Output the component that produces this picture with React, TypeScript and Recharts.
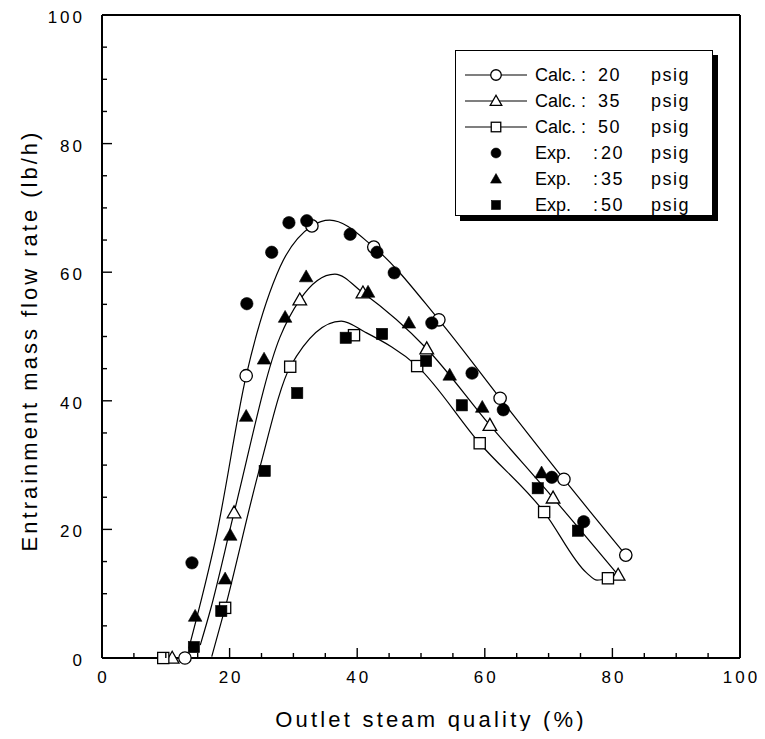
import React from 'react';
import { ComposedChart, Line, Scatter, XAxis, YAxis, Legend, Label } from 'recharts';

// axis ticks: major every 20, minor every 5
const axisTicks = [0, 5, 10, 15, 20, 25, 30, 35, 40, 45, 50, 55, 60, 65, 70, 75, 80, 85, 90, 95, 100];

// calculated values (open markers)
const calc20 = [
  { x: 13.0, y: 0 }, { x: 22.6, y: 43.9 }, { x: 32.9, y: 67.2 }, { x: 42.6, y: 63.9 },
  { x: 52.8, y: 52.6 }, { x: 62.4, y: 40.4 }, { x: 72.4, y: 27.8 }, { x: 82.1, y: 16.0 },
];
const calc35 = [
  { x: 11.0, y: 0 }, { x: 20.7, y: 22.6 }, { x: 31.0, y: 55.7 }, { x: 40.9, y: 56.8 },
  { x: 50.9, y: 48.1 }, { x: 60.8, y: 36.2 }, { x: 70.7, y: 24.9 }, { x: 80.9, y: 12.9 },
];
const calc50 = [
  { x: 9.6, y: 0 }, { x: 19.3, y: 7.8 }, { x: 29.5, y: 45.3 }, { x: 39.5, y: 50.2 },
  { x: 49.4, y: 45.4 }, { x: 59.2, y: 33.4 }, { x: 69.3, y: 22.7 }, { x: 79.3, y: 12.4 },
];

// calculated curves
const curve20 = [
  { x: 13.6, y: 1.5 }, { x: 18.0, y: 19.4 }, { x: 22.6, y: 43.9 }, { x: 27.9, y: 60.8 },
  { x: 32.9, y: 67.2 }, { x: 35.7, y: 68.1 }, { x: 42.6, y: 63.9 }, { x: 52.8, y: 52.6 },
  { x: 62.4, y: 40.4 }, { x: 72.4, y: 27.8 }, { x: 82.1, y: 16.0 },
];
const curve35 = [
  { x: 15.4, y: 2.0 }, { x: 17.0, y: 7.5 }, { x: 20.7, y: 22.6 }, { x: 27.9, y: 49.9 },
  { x: 31.0, y: 55.7 }, { x: 36.5, y: 59.7 }, { x: 40.9, y: 56.8 }, { x: 50.9, y: 48.1 },
  { x: 60.8, y: 36.2 }, { x: 70.7, y: 24.9 }, { x: 80.9, y: 12.9 },
];
const curve50 = [
  { x: 17.2, y: 0.2 }, { x: 19.3, y: 7.8 }, { x: 24.6, y: 29.1 }, { x: 29.5, y: 45.3 },
  { x: 37.5, y: 52.4 }, { x: 41.2, y: 50.7 }, { x: 49.4, y: 45.4 }, { x: 59.2, y: 33.4 },
  { x: 69.3, y: 22.7 }, { x: 76.0, y: 13.2 }, { x: 77.6, y: 12.1 }, { x: 79.3, y: 12.4 },
];

// experimental values (filled markers)
const exp20 = [
  { x: 14.1, y: 14.8 }, { x: 22.7, y: 55.1 }, { x: 26.6, y: 63.1 }, { x: 29.3, y: 67.7 },
  { x: 32.1, y: 68.0 }, { x: 38.9, y: 65.9 }, { x: 43.1, y: 63.1 }, { x: 45.8, y: 59.9 },
  { x: 51.7, y: 52.1 }, { x: 58.0, y: 44.3 }, { x: 62.9, y: 38.6 }, { x: 70.5, y: 28.1 },
  { x: 75.5, y: 21.2 },
];
const exp35 = [
  { x: 14.6, y: 6.5 }, { x: 19.3, y: 12.3 }, { x: 20.1, y: 19.1 }, { x: 22.6, y: 37.6 },
  { x: 25.4, y: 46.5 }, { x: 28.7, y: 53.0 }, { x: 32.0, y: 59.3 }, { x: 41.7, y: 56.9 },
  { x: 48.1, y: 52.1 }, { x: 54.5, y: 44.0 }, { x: 59.6, y: 39.0 }, { x: 68.9, y: 28.8 },
];
const exp50 = [
  { x: 14.4, y: 1.7 }, { x: 18.7, y: 7.3 }, { x: 25.5, y: 29.1 }, { x: 30.6, y: 41.2 },
  { x: 38.2, y: 49.8 }, { x: 43.9, y: 50.4 }, { x: 50.8, y: 46.2 }, { x: 56.4, y: 39.3 },
  { x: 68.3, y: 26.4 }, { x: 74.6, y: 19.8 },
];

// legend rows
const legendKinds = ['Calc.', 'Calc.', 'Calc.', 'Exp.', 'Exp.', 'Exp.'];
const legendPressures = ['20', '35', '50', '20', '35', '50'];
const legendShapes = ['circle', 'triangle', 'square', 'circle', 'triangle', 'square'];

const FONT = '"Liberation Sans", Arial, Helvetica, sans-serif';

type ShapeName = 'circle' | 'triangle' | 'square';

const Marker = ({ cx, cy, shape, filled, s = 1 }: { cx: number; cy: number; shape: string; filled: boolean; s?: number }) => {
  const fill = filled ? '#000' : '#fff';
  const sw = filled ? 0.6 : 1.3;
  if (shape === 'circle') {
    return <circle cx={cx} cy={cy} r={6.2 * s} fill={fill} stroke="#000" strokeWidth={sw} />;
  }
  if (shape === 'triangle') {
    const h = 6.8 * s;
    return (
      <polygon
        points={`${cx},${cy - h} ${cx - h},${cy + h * 0.75} ${cx + h},${cy + h * 0.75}`}
        fill={fill}
        stroke="#000"
        strokeWidth={sw}
        strokeLinejoin="miter"
      />
    );
  }
  const a = 5.6 * s;
  return <rect x={cx - a} y={cy - a} width={2 * a} height={2 * a} fill={fill} stroke="#000" strokeWidth={sw} />;
};

const shapeFor = (shape: ShapeName, filled: boolean) => (p: any) =>
  <Marker cx={p.cx} cy={p.cy} shape={shape} filled={filled} />;

const BottomTick = ({ x, y, payload }: any) => {
  const major = payload.value % 20 === 0;
  return (
    <g>
      <line x1={x} x2={x} y1={y} y2={y - (major ? 10 : 5)} stroke="#000" strokeWidth={1.4} />
      {major && (
        <text x={x + 1.5} y={y + 25} textAnchor="middle" fontSize={17} letterSpacing={3} fontFamily={FONT} fill="#000">
          {payload.value}
        </text>
      )}
    </g>
  );
};

const TopTick = ({ x, y, payload }: any) => {
  const major = payload.value % 20 === 0;
  return <line x1={x} x2={x} y1={y} y2={y + (major ? 10 : 5)} stroke="#000" strokeWidth={1.4} />;
};

const LeftTick = ({ x, y, payload }: any) => {
  const major = payload.value % 20 === 0;
  return (
    <g>
      <line x1={x} x2={x + (major ? 10 : 5)} y1={y} y2={y} stroke="#000" strokeWidth={1.4} />
      {major && (
        <text x={x - 17} y={y + 2} dy="0.35em" textAnchor="end" fontSize={17} letterSpacing={3} fontFamily={FONT} fill="#000">
          {payload.value}
        </text>
      )}
    </g>
  );
};

const RightTick = ({ x, y, payload }: any) => {
  const major = payload.value % 20 === 0;
  return <line x1={x} x2={x - (major ? 10 : 5)} y1={y} y2={y} stroke="#000" strokeWidth={1.4} />;
};

const LegendBox = () => (
  <div
    style={{
      width: 258,
      height: 166,
      boxSizing: 'border-box',
      border: '1.5px solid #000',
      boxShadow: '5px 5px 0 #000',
      background: '#fff',
      paddingTop: 11,
      fontFamily: FONT,
      fontSize: 18,
      letterSpacing: 1.5,
      color: '#000',
    }}
  >
    {legendKinds.map((kind, i) => {
      const calc = kind === 'Calc.';
      return (
        <div key={i} style={{ position: 'relative', height: 26, lineHeight: '26px' }}>
          <svg width={64} height={26} style={{ position: 'absolute', left: 9, top: 0 }}>
            {calc && <line x1={0} x2={62} y1={13} y2={13} stroke="#000" strokeWidth={1.2} />}
            <Marker cx={31} cy={13} shape={legendShapes[i]} filled={!calc} s={calc ? 0.85 : 0.8} />
          </svg>
          <span style={{ position: 'absolute', left: 79, letterSpacing: 0 }}>{kind}</span>
          <span style={{ position: 'absolute', left: calc ? 125 : 137 }}>:</span>
          <span style={{ position: 'absolute', left: calc ? 142 : 145 }}>{legendPressures[i]}</span>
          <span style={{ position: 'absolute', left: 195 }}>psig</span>
        </div>
      );
    })}
  </div>
);

const axisLine = { stroke: '#000', strokeWidth: 2 };

export default function App() {
  return (
    <ComposedChart width={755} height={723} margin={{ top: 0, right: 0, bottom: 0, left: 0 }}>
      <XAxis
        xAxisId="b"
        dataKey="x"
        type="number"
        orientation="bottom"
        domain={[0, 100]}
        ticks={axisTicks}
        interval={0}
        height={73}
        tickSize={0}
        tickMargin={0}
        tickLine={false}
        axisLine={axisLine}
        tick={<BottomTick />}
      >
        <Label
          content={(props: any) => {
            const vb = props.viewBox;
            return (
              <text
                x={vb.x + vb.width / 2 + 10}
                y={vb.y + 69}
                textAnchor="middle"
                fontSize={22}
                letterSpacing={3.2}
                fontFamily={FONT}
                fill="#000"
              >
                Outlet steam quality (%)
              </text>
            );
          }}
        />
      </XAxis>
      <XAxis
        xAxisId="t"
        dataKey="x"
        type="number"
        orientation="top"
        domain={[0, 100]}
        ticks={axisTicks}
        interval={0}
        height={7}
        tickSize={0}
        tickMargin={0}
        tickLine={false}
        axisLine={axisLine}
        tick={<TopTick />}
      />
      <YAxis
        yAxisId="l"
        type="number"
        orientation="left"
        domain={[0, 100]}
        ticks={axisTicks}
        interval={0}
        width={94}
        tickSize={0}
        tickMargin={0}
        tickLine={false}
        axisLine={axisLine}
        tick={<LeftTick />}
      >
        <Label
          content={(props: any) => {
            const vb = props.viewBox;
            const cx = 29;
            const cy = vb.y + vb.height / 2 + 4;
            return (
              <text
                x={cx}
                y={cy}
                textAnchor="middle"
                transform={`rotate(-90, ${cx}, ${cy})`}
                fontSize={22}
                letterSpacing={3}
                fontFamily={FONT}
                fill="#000"
              >
                Entrainment mass flow rate (lb/h)
              </text>
            );
          }}
        />
      </YAxis>
      <YAxis
        yAxisId="r"
        type="number"
        orientation="right"
        domain={[0, 100]}
        ticks={axisTicks}
        interval={0}
        width={23}
        tickSize={0}
        tickMargin={0}
        tickLine={false}
        axisLine={axisLine}
        tick={<RightTick />}
      />

      <Line xAxisId="b" yAxisId="l" data={curve20} dataKey="y" type="monotone" stroke="#000" strokeWidth={1.2} dot={false} activeDot={false} isAnimationActive={false} legendType="none" />
      <Line xAxisId="b" yAxisId="l" data={curve35} dataKey="y" type="monotone" stroke="#000" strokeWidth={1.2} dot={false} activeDot={false} isAnimationActive={false} legendType="none" />
      <Line xAxisId="b" yAxisId="l" data={curve50} dataKey="y" type="monotone" stroke="#000" strokeWidth={1.2} dot={false} activeDot={false} isAnimationActive={false} legendType="none" />

      <Scatter xAxisId="b" yAxisId="l" data={calc20} dataKey="y" shape={shapeFor('circle', false)} isAnimationActive={false} />
      <Scatter xAxisId="b" yAxisId="l" data={calc35} dataKey="y" shape={shapeFor('triangle', false)} isAnimationActive={false} />
      <Scatter xAxisId="b" yAxisId="l" data={calc50} dataKey="y" shape={shapeFor('square', false)} isAnimationActive={false} />
      <Scatter xAxisId="b" yAxisId="l" data={exp20} dataKey="y" shape={shapeFor('circle', true)} isAnimationActive={false} />
      <Scatter xAxisId="b" yAxisId="l" data={exp35} dataKey="y" shape={shapeFor('triangle', true)} isAnimationActive={false} />
      <Scatter xAxisId="b" yAxisId="l" data={exp50} dataKey="y" shape={shapeFor('square', true)} isAnimationActive={false} />

      <Legend
        layout="vertical"
        align="center"
        verticalAlign="middle"
        content={() => <LegendBox />}
        wrapperStyle={{ left: 447, top: 42, width: 258, height: 166 }}
      />
    </ComposedChart>
  );
}
